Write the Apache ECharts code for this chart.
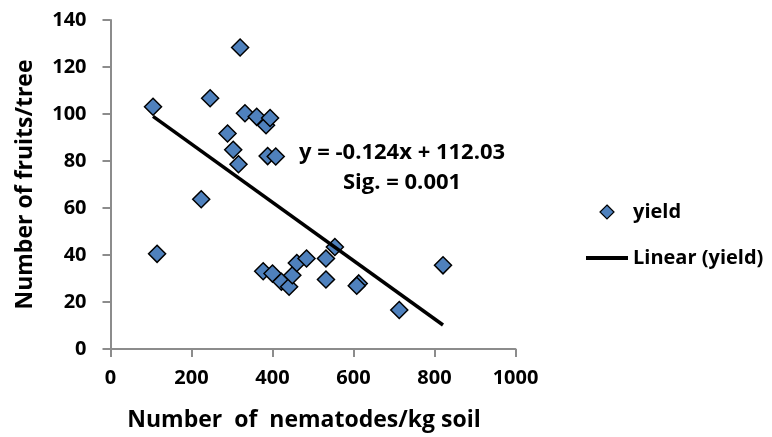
<!DOCTYPE html>
<html>
<head>
<meta charset="utf-8">
<script src="https://cdn.jsdelivr.net/npm/echarts@6/dist/echarts.min.js"></script>
<style>
  html, body { margin: 0; padding: 0; background: #fff; }
  #main { width: 772px; height: 437px; }
</style>
</head>
<body>
<div id="main"></div>
<script>
// nematodes per kg soil vs fruits per tree
const nematodes = [105, 115, 224, 246, 289, 303, 316, 320, 332, 361, 384, 394, 388, 408,
                   377, 400, 422, 441, 449, 460, 484, 532, 532, 554, 613, 608, 713, 821];
const fruits    = [103.1, 40.5, 63.7, 106.7, 91.7, 84.8, 78.6, 128.3, 100.3, 98.8, 95.2, 98.3, 82.1, 81.9,
                   33.1, 32.1, 28.6, 26.5, 31.4, 36.6, 38.5, 38.5, 29.6, 43.4, 27.9, 26.9, 16.6, 35.6];
// trend line end points
const trendX = [105, 821];
const trendY = [99.0, 10.2];

const equationText = 'y = -0.124x + 112.03';
const sigText = 'Sig. = 0.001';

const FONT = '"Open Sans", "DejaVu Sans", sans-serif';

var myChart = echarts.init(document.getElementById('main'));

var yieldData = nematodes.map((x, i) => [x, fruits[i]]);
var trendData = trendX.map((x, i) => [x, trendY[i]]);

var axisGrey = '#8c8c8c';

var option = {
  animation: false,
  backgroundColor: '#fff',
  textStyle: { fontFamily: FONT },
  grid: { left: 110.5, right: 256.5, top: 20, bottom: 86, containLabel: false },
  xAxis: {
    type: 'value',
    min: 0, max: 1000, interval: 200,
    name: 'Number  of  nematodes/kg soil',
    nameLocation: 'middle',
    nameGap: 60,
    nameTextStyle: { fontFamily: FONT, fontWeight: 'bold', fontSize: 23, color: '#000', padding: [0, 18, 0, 0] },
    splitLine: { show: false },
    axisLine: { show: true, onZero: false, lineStyle: { color: axisGrey, width: 2 } },
    axisTick: { show: true, length: 8, inside: false, lineStyle: { color: axisGrey, width: 2 } },
    axisLabel: { fontFamily: FONT, fontWeight: 'bold', fontSize: 20, color: '#000', margin: 19,
                 formatter: v => String(v) }
  },
  yAxis: {
    type: 'value',
    min: 0, max: 140, interval: 20,
    name: 'Number of fruits/tree',
    nameLocation: 'middle',
    nameGap: 74,
    nameRotate: 90,
    nameTextStyle: { fontFamily: FONT, fontWeight: 'bold', fontSize: 23, color: '#000' },
    splitLine: { show: false },
    axisLine: { show: true, onZero: false, lineStyle: { color: axisGrey, width: 2 } },
    axisTick: { show: true, length: 8, inside: false, lineStyle: { color: axisGrey, width: 2 } },
    axisLabel: { fontFamily: FONT, fontWeight: 'bold', fontSize: 20, color: '#000', margin: 24 }
  },
  legend: {
    orient: 'vertical',
    left: 581,
    top: 197,
    itemWidth: 42,
    itemHeight: 14,
    itemGap: 26,
    symbolKeepAspect: true,
    textStyle: { fontFamily: FONT, fontWeight: 'bold', fontSize: 20, color: '#000' },
    data: [
      { name: 'yield', icon: 'path://M7,0L14,7L7,14L0,7Z',
        itemStyle: { color: '#4f81bd', borderColor: '#000', borderWidth: 1.2 } },
      { name: 'Linear (yield)', icon: 'path://M0,0H42V4H0Z', itemStyle: { color: '#000', borderWidth: 0 } }
    ]
  },
  graphic: [
    {
      type: 'text', left: 299, top: 142,
      style: { text: equationText, font: 'bold 22px ' + FONT, fill: '#000' }
    },
    {
      type: 'text', left: 343, top: 172,
      style: { text: sigText, font: 'bold 22px ' + FONT, fill: '#000' }
    }
  ],
  series: [
    {
      name: 'yield',
      type: 'scatter',
      symbol: 'diamond',
      symbolSize: 17,
      data: yieldData,
      itemStyle: { color: '#4f81bd', borderColor: '#000', borderWidth: 1.5, opacity: 1 },
      z: 2
    },
    {
      name: 'Linear (yield)',
      type: 'line',
      data: trendData,
      symbol: 'none',
      silent: true,
      lineStyle: { color: '#000', width: 3.5 },
      itemStyle: { color: '#000' },
      z: 3
    }
  ]
};

myChart.setOption(option);
</script>
</body>
</html>
